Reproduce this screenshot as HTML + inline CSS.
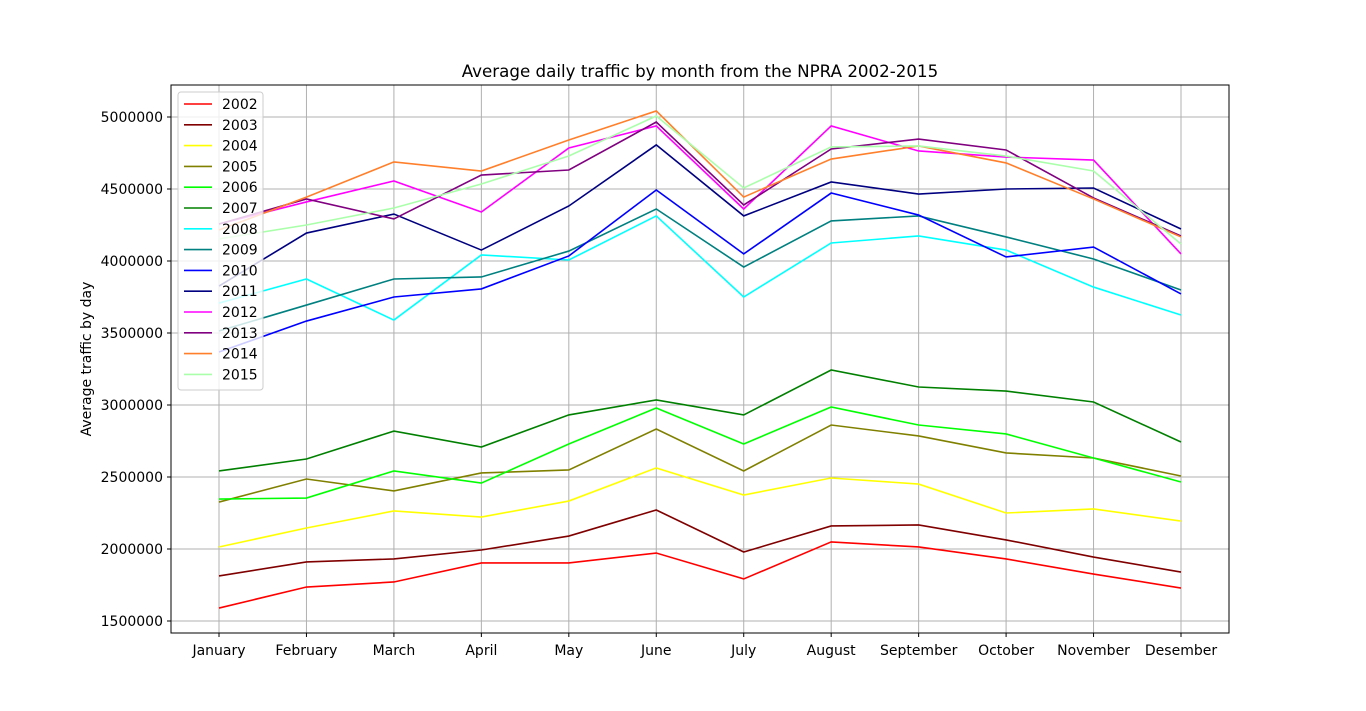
<!DOCTYPE html>
<html><head><meta charset="utf-8"><style>
body{margin:0;background:#fff;font-family:"Liberation Sans","DejaVu Sans",sans-serif}
svg{display:block}
text{font-family:"DejaVu Sans","Liberation Sans",sans-serif}
</style></head><body>
<svg id="chart" width="1366" height="711">
<rect width="1366" height="711" fill="#fff"/>
<text x="700" y="77" font-size="16.7" text-anchor="middle">Average daily traffic by month from the NPRA 2002-2015</text>
<text transform="translate(91,359) rotate(-90)" font-size="14" text-anchor="middle">Average traffic by day</text>
<g id="grid"></g><g id="lines"></g><g id="axes"></g><g id="legend"></g>
</svg>
<script>
const months=["January","February","March","April","May","June","July","August","September","October","November","Desember"];
const years=["2002","2003","2004","2005","2006","2007","2008","2009","2010","2011","2012","2013","2014","2015"];
const colors=["#ff0000","#800000","#ffff00","#808000","#00ff00","#008000","#00ffff","#008080","#0000ff","#000080","#ff00ff","#800080","#ff7f2a","#aaffaa"];
const yTicks=[1500000,2000000,2500000,3000000,3500000,4000000,4500000,5000000];
const s2002=[1590000,1736000,1771000,1903000,1903000,1972000,1792000,2049000,2014000,1931000,1826000,1729000];
const s2003=[1813000,1910000,1931000,1993000,2090000,2271000,1979000,2160000,2167000,2063000,1944000,1840000];
const s2004=[2014000,2146000,2264000,2222000,2333000,2563000,2375000,2493000,2451000,2250000,2278000,2194000];
const s2005=[2326000,2486000,2403000,2528000,2549000,2833000,2542000,2861000,2785000,2667000,2632000,2507000];
const s2006=[2347000,2354000,2542000,2458000,2729000,2979000,2729000,2986000,2861000,2799000,2632000,2465000];
const s2007=[2542000,2625000,2819000,2708000,2931000,3035000,2931000,3243000,3125000,3097000,3021000,2743000];
const s2008=[3708000,3875000,3590000,4042000,4007000,4313000,3750000,4125000,4174000,4076000,3819000,3625000];
const s2009=[3514000,3694000,3875000,3889000,4069000,4361000,3958000,4278000,4313000,4167000,4014000,3799000];
const s2010=[3368000,3583000,3750000,3806000,4035000,4493000,4049000,4472000,4319000,4028000,4097000,3771000];
const s2011=[3826000,4194000,4326000,4076000,4382000,4806000,4313000,4549000,4465000,4500000,4507000,4222000];
const s2012=[4257000,4410000,4556000,4340000,4785000,4938000,4361000,4938000,4764000,4722000,4701000,4049000];
const s2013=[4257000,4431000,4292000,4597000,4632000,4965000,4389000,4778000,4847000,4771000,4438000,4174000];
const s2014=[4215000,4444000,4688000,4625000,4840000,5042000,4444000,4708000,4799000,4681000,4431000,4167000];
const s2015=[4153000,4250000,4368000,4535000,4729000,5007000,4507000,4792000,4799000,4729000,4625000,4118000];
const series=[s2002,s2003,s2004,s2005,s2006,s2007,s2008,s2009,s2010,s2011,s2012,s2013,s2014,s2015];
const NS="http://www.w3.org/2000/svg";
const L=171,R=1229,T=85,B=633;
const xS=i=>219+i*(1181-219)/11;
const yS=v=>117+(5000000-v)/500000*72;
function mk(t,a,p){const e=document.createElementNS(NS,t);for(const k in a)e.setAttribute(k,a[k]);p.appendChild(e);return e;}
const grid=document.getElementById('grid'),axes=document.getElementById('axes'),lines=document.getElementById('lines'),leg=document.getElementById('legend');
months.forEach((m,i)=>{
 const g=mk('line',{x1:xS(i),x2:xS(i),y1:T,y2:B,stroke:'#b0b0b0','stroke-width':1},grid);
 
 
 mk('line',{x1:xS(i),x2:xS(i),y1:B,y2:B+4,stroke:'#000'},axes);
 const t=mk('text',{x:xS(i),y:B+22,'font-size':14,'text-anchor':'middle'},axes);t.textContent=m;
 
 
});
yTicks.forEach(v=>{
 const g=mk('line',{x1:L,x2:R,y1:yS(v),y2:yS(v),stroke:'#b0b0b0','stroke-width':1},grid);
 
 
 mk('line',{x1:L-4,x2:L,y1:yS(v),y2:yS(v),stroke:'#000'},axes);
 const t=mk('text',{x:L-8,y:yS(v)+5,'font-size':14,'text-anchor':'end'},axes);t.textContent=String(v);
 
 
});
const fr=mk('rect',{x:L,y:T,width:R-L,height:B-T,fill:'none',stroke:'#000','stroke-width':1},axes);


series.forEach((s,k)=>{
 const p=mk('polyline',{points:s.map((v,i)=>xS(i)+','+yS(v)).join(' '),fill:'none',stroke:colors[k],'stroke-width':1.6},lines);
 
 
});
const lb=mk('rect',{x:178,y:92,width:85,height:298,rx:3,fill:'#fff','fill-opacity':0.8,stroke:'#ccc'},leg);


years.forEach((y,k)=>{
 const yy=104+k*20.8;
 mk('line',{x1:184,x2:212,y1:yy,y2:yy,stroke:colors[k],'stroke-width':1.6},leg);
 const t=mk('text',{x:222,y:yy+5,'font-size':14},leg);t.textContent=y;
 
 
});
</script>
</body></html>
